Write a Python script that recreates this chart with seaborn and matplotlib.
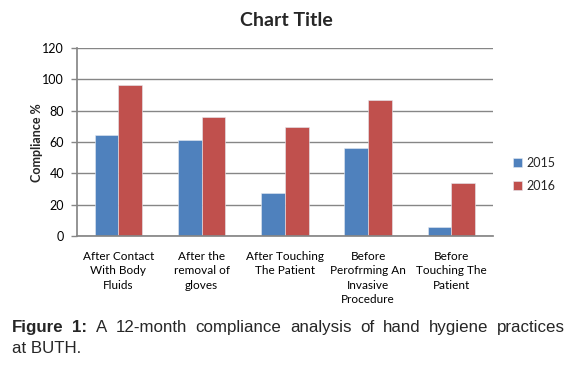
import matplotlib
matplotlib.use("Agg")
import matplotlib.pyplot as plt
import seaborn as sns
import pandas as pd

categories = ["After Contact\nWith Body\nFluids",
              "After the\nremoval of\ngloves",
              "After Touching\nThe Patient",
              "Before\nPerofrming An\nInvasive\nProcedure",
              "Before\nTouching The\nPatient"]
years = ["2015", "2016"]
values_2015 = [64.2, 61.3, 27.4, 56.2, 5.5]
values_2016 = [96.7, 76.1, 69.6, 86.8, 33.8]
yticks = [0, 20, 40, 60, 80, 100, 120]
caption_bold = "Figure 1:"
caption_rest = "A 12-month compliance analysis of hand hygiene practices"
caption_line2 = "at BUTH."

df = pd.DataFrame({
    "category": categories * 2,
    "year": [years[0]] * 5 + [years[1]] * 5,
    "value": values_2015 + values_2016,
})

sns.set_theme(style="white")
plt.rcParams["font.family"] = ["Lato", "DejaVu Sans"]

W, H = 574, 366
fig = plt.figure(figsize=(W / 100, H / 100), dpi=100)
# axes box in pixels: left 76.7, right 493, top 48, bottom 236
ax = fig.add_axes([76.7 / W, 1 - 236 / H, 416.3 / W, 188 / H])

sns.barplot(data=df, x="category", y="value", hue="year",
            palette=["#4F81BD", "#C0504D"], saturation=1, width=0.57,
            edgecolor="#e4eaf2", linewidth=0.4, ax=ax, legend=True)

ax.set_ylim(0, 120)
ax.set_yticks(yticks)
ax.yaxis.grid(True, color="#868686", linewidth=1)
ax.set_axisbelow(True)
for s in ["top", "right"]:
    ax.spines[s].set_visible(False)
ax.spines["left"].set_color("#868686")
ax.spines["bottom"].set_color("#868686")
ax.tick_params(axis="y", left=True, length=4, width=1, color="#868686",
               pad=5, labelsize=9, labelcolor="#000000")
ax.tick_params(axis="x", bottom=False, pad=5, labelsize=8.5, labelcolor="#000000")
for lbl in ax.get_xticklabels():
    lbl.set_verticalalignment("top")
    lbl.set_linespacing(1.35)
ax.set_xlabel("")
ax.set_ylabel("")

fig.text(37 / W, 1 - 143 / H, "Compliance %", rotation=90, ha="center",
         va="center", fontsize=9, fontweight="bold")
fig.text(286 / W, 1 - 20 / H, "Chart Title", ha="center", va="center",
         fontsize=14, fontweight="bold")

handles, labels = ax.get_legend_handles_labels()
ax.legend(handles, labels, loc="center left", frameon=False,
          bbox_to_anchor=(513 / W, 1 - 174.5 / H), bbox_transform=fig.transFigure,
          borderpad=0, borderaxespad=0,
          handlelength=0.75, handleheight=0.75, handletextpad=0.3,
          labelspacing=0.9, fontsize=9)

# caption, first line justified across the width
cap_font = dict(family=["Liberation Sans", "DejaVu Sans"], fontsize=12.2)
fig.canvas.draw()
renderer = fig.canvas.get_renderer()
left, right = 12, 565
y1 = 1 - 332 / H
words = [(w, "bold") for w in caption_bold.split()] + \
        [(w, "normal") for w in caption_rest.split()]
texts = []
total = 0
for w, wt in words:
    t = fig.text(0, y1, w, fontweight=wt, va="baseline", **cap_font)
    width = t.get_window_extent(renderer).width
    texts.append((t, width))
    total += width
gap = (right - left - total) / (len(words) - 1)
x = left
for t, width in texts:
    t.set_x(x / W)
    x += width + gap
fig.text(left / W, 1 - 353 / H, caption_line2, va="baseline", **cap_font)

fig.savefig("out.png", dpi=100)
